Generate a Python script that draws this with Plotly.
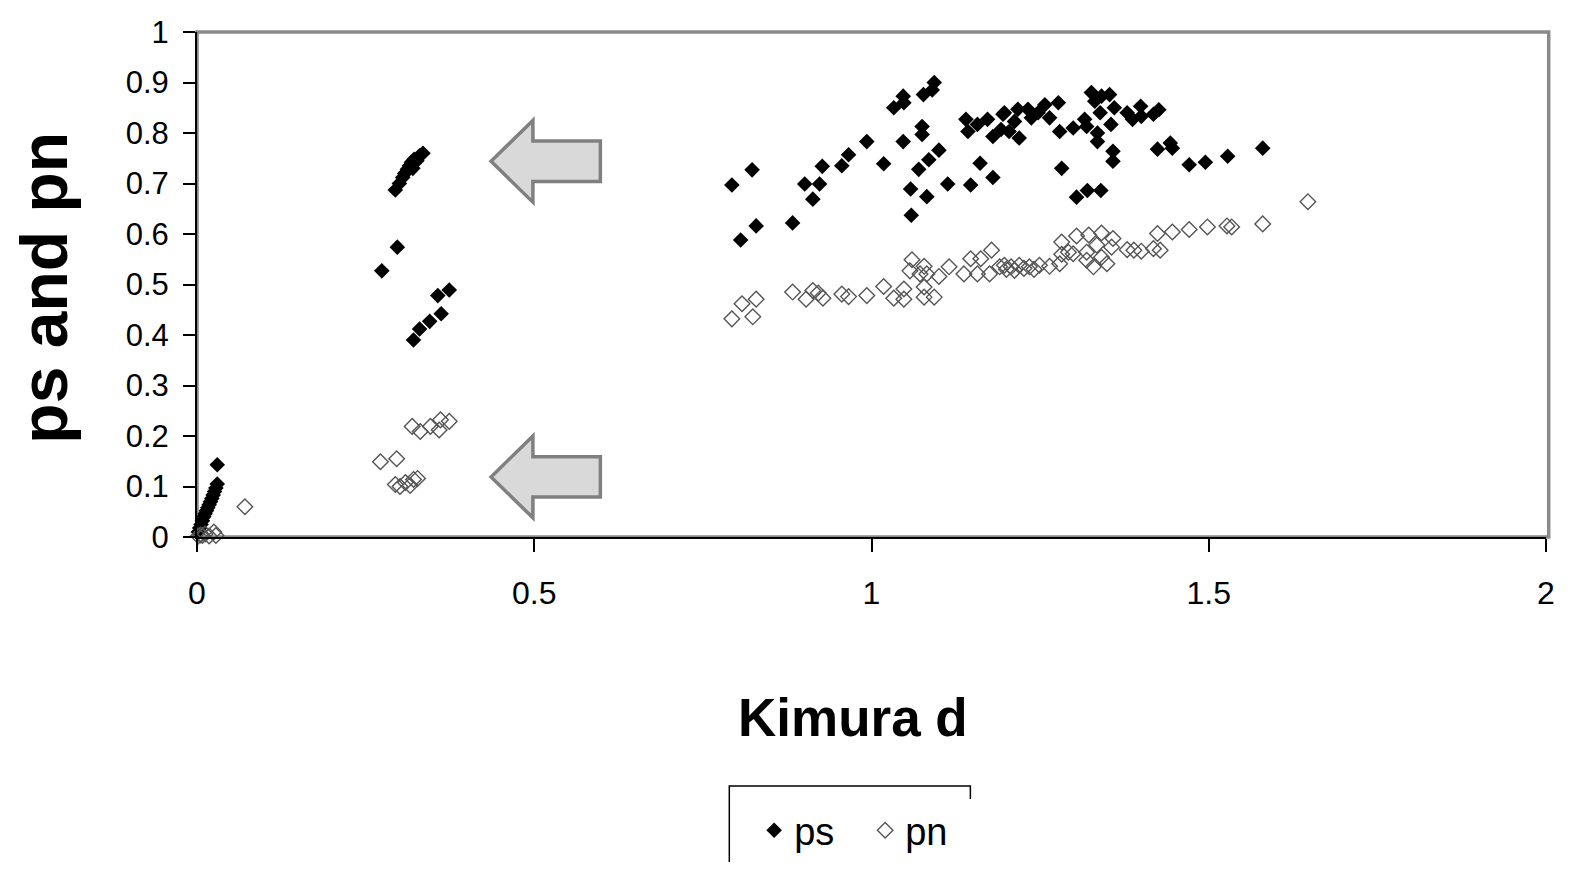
import plotly.graph_objects as go

# ---------------- data ----------------
ps_x = [0.002, 0.004, 0.006, 0.008, 0.010, 0.012, 0.014, 0.016, 0.018, 0.020, 0.022, 0.024, 0.026, 0.028, 0.030,
        0.294, 0.300, 0.305, 0.308, 0.312, 0.315, 0.318, 0.322, 0.326, 0.330, 0.335, 0.320,
        0.297, 0.274, 0.374, 0.357, 0.362, 0.345, 0.330, 0.321,
        0.793, 0.823, 0.806, 0.829, 0.883, 0.901, 0.913, 0.923, 0.927, 0.956, 0.966, 0.993, 1.018, 1.033,
        1.047, 1.048, 1.047, 1.058, 1.059, 1.077, 1.093, 1.090, 1.075, 1.075, 1.085, 1.070, 1.100, 1.082,
        1.113, 1.147, 1.161, 1.180, 1.140, 1.143, 1.157, 1.172, 1.180, 1.195,
        1.197, 1.217, 1.212, 1.232, 1.237, 1.192, 1.204, 1.219, 1.247, 1.257, 1.277, 1.264, 1.279, 1.299,
        1.316, 1.326, 1.341, 1.353, 1.331, 1.339, 1.319, 1.355, 1.360, 1.335, 1.335, 1.358, 1.358, 1.282,
        1.304, 1.320, 1.340, 1.379, 1.387, 1.399, 1.400, 1.418, 1.426, 1.424, 1.443, 1.446, 1.471, 1.495,
        1.528, 1.580, 0.030]
ps_y = [0.010, 0.018, 0.025, 0.032, 0.040, 0.046, 0.052, 0.058, 0.064, 0.070, 0.076, 0.083, 0.090, 0.097, 0.105,
        0.687, 0.700, 0.712, 0.720, 0.728, 0.735, 0.742, 0.748, 0.745, 0.755, 0.760, 0.730,
        0.574, 0.527, 0.489, 0.478, 0.442, 0.427, 0.412, 0.390,
        0.697, 0.727, 0.588, 0.616, 0.622, 0.699, 0.669, 0.699, 0.734, 0.735, 0.757, 0.783, 0.739, 0.850,
        0.873, 0.860, 0.783, 0.689, 0.637, 0.876, 0.900, 0.885, 0.813, 0.797, 0.747, 0.728, 0.766, 0.674,
        0.699, 0.697, 0.740, 0.712, 0.827, 0.803, 0.817, 0.827, 0.793, 0.837,
        0.840, 0.847, 0.823, 0.847, 0.830, 0.807, 0.803, 0.790, 0.840, 0.856, 0.860, 0.830, 0.803, 0.810,
        0.827, 0.880, 0.873, 0.876, 0.863, 0.840, 0.813, 0.817, 0.850, 0.800, 0.783, 0.764, 0.744, 0.730,
        0.673, 0.686, 0.686, 0.840, 0.827, 0.853, 0.833, 0.837, 0.846, 0.768, 0.780, 0.770, 0.737, 0.742,
        0.754, 0.770, 0.143]

pn_x = [0.002, 0.005, 0.008, 0.012, 0.018, 0.025, 0.028, 0.071,
        0.272, 0.296, 0.294, 0.301, 0.309, 0.316, 0.321, 0.327,
        0.319, 0.331, 0.346, 0.359, 0.361, 0.374,
        0.793, 0.808, 0.824, 0.829, 0.883, 0.903, 0.913, 0.928, 0.921, 0.956, 0.966, 0.993, 1.018, 1.033,
        1.048, 1.048, 1.060, 1.057, 1.078, 1.082, 1.072, 1.078, 1.078, 1.093, 1.100, 1.115, 1.137, 1.147,
        1.162, 1.178, 1.157, 1.175, 1.190,
        1.197, 1.207, 1.219, 1.234, 1.249, 1.264, 1.279, 1.282, 1.282, 1.299, 1.304, 1.322, 1.341, 1.319,
        1.319, 1.334, 1.341, 1.329, 1.349, 1.356, 1.358, 1.379, 1.389, 1.400, 1.418, 1.428, 1.424, 1.446,
        1.471, 1.498, 1.527, 1.534, 1.580, 1.647, 1.292, 1.200, 1.212, 1.226, 1.241]
pn_y = [0.002, 0.004, 0.003, 0.006, 0.002, 0.010, 0.003, 0.060,
        0.149, 0.155, 0.104, 0.100, 0.108, 0.102, 0.114, 0.116,
        0.219, 0.209, 0.219, 0.212, 0.232, 0.229,
        0.432, 0.462, 0.436, 0.471, 0.485, 0.471, 0.488, 0.473, 0.483, 0.481, 0.476, 0.478, 0.496, 0.473,
        0.471, 0.491, 0.549, 0.527, 0.536, 0.521, 0.521, 0.495, 0.475, 0.475, 0.516, 0.535, 0.521, 0.551,
        0.551, 0.568, 0.521, 0.521, 0.535,
        0.538, 0.535, 0.538, 0.535, 0.538, 0.536, 0.541, 0.584, 0.560, 0.561, 0.596, 0.598, 0.602, 0.564,
        0.548, 0.578, 0.554, 0.535, 0.541, 0.574, 0.591, 0.569, 0.568, 0.566, 0.571, 0.568, 0.601, 0.604,
        0.609, 0.614, 0.616, 0.614, 0.620, 0.664, 0.564, 0.530, 0.528, 0.532, 0.530]

x_ticks = [0, 0.5, 1, 1.5, 2]
y_ticks = [0, 0.1, 0.2, 0.3, 0.4, 0.5, 0.6, 0.7, 0.8, 0.9, 1]

# ---------------- figure ----------------
FONT = "Liberation Sans, Arial, sans-serif"
fig = go.Figure()
fig.add_trace(go.Scatter(x=ps_x, y=ps_y, mode="markers", name="ps", cliponaxis=False,
                         marker=dict(symbol="diamond", size=12, color="black",
                                     line=dict(width=0))))
fig.add_trace(go.Scatter(x=pn_x, y=pn_y, mode="markers", name="pn", cliponaxis=False,
                         marker=dict(symbol="diamond-open", size=12, color="#555555",
                                     line=dict(width=1.4, color="#555555"))))


def arrow_path(cy):
    tip_x, head_x, end_x = 0.436, 0.498, 0.598
    hh, sh = 0.081, 0.040
    return (f"M {tip_x},{cy} L {head_x},{cy + hh} L {head_x},{cy + sh} L {end_x},{cy + sh} "
            f"L {end_x},{cy - sh} L {head_x},{cy - sh} L {head_x},{cy - hh} Z")


shapes = [
    dict(type="rect", xref="paper", yref="paper", x0=0, x1=1.002, y0=0, y1=1,
         line=dict(color="#8a8a8a", width=3.5), layer="below"),
    # legend frame
    dict(type="rect", xref="paper", yref="paper", x0=0.3946, x1=0.5733, y0=-0.70, y1=-0.493,
         line=dict(color="black", width=1.5), fillcolor="rgba(0,0,0,0)"),
]
for cy in (0.744, 0.119):
    shapes.append(dict(type="path", xref="x", yref="y", path=arrow_path(cy),
                       fillcolor="#d9d9d9", line=dict(color="#808080", width=3.5), layer="above"))

fig.update_layout(
    width=1558, height=854,
    margin=dict(l=189, r=20, t=24, b=325),
    paper_bgcolor="white", plot_bgcolor="white",
    font=dict(family=FONT, color="black", size=32),
    showlegend=True,
    legend=dict(orientation="h", x=0.413, y=0.0, xanchor="left", yanchor="bottom",
                yref="container", borderwidth=0, font=dict(size=38, family=FONT),
                itemwidth=30, traceorder="normal", entrywidth=66, entrywidthmode="pixels"),
    shapes=shapes,
    annotations=[
        dict(text="<b>Kimura d</b>", xref="paper", yref="paper", x=0.486, y=-0.358,
             xanchor="center", yanchor="middle", showarrow=False, font=dict(size=53, family=FONT)),
        dict(text="<b>ps and pn</b>", xref="paper", yref="paper", x=-0.1137, y=0.493,
             xanchor="center", yanchor="middle", showarrow=False, textangle=-90,
             font=dict(size=66, family=FONT)),
    ],
)
fig.update_xaxes(range=[0, 2], tickvals=x_ticks, showgrid=False, zeroline=False, automargin=False,
                 showline=True, linecolor="black", linewidth=2,
                 ticks="outside", ticklen=13, tickwidth=2, tickcolor="black",
                 ticklabelstandoff=14, tickfont=dict(size=32, family=FONT))
fig.update_yaxes(range=[0, 1], tickvals=y_ticks, showgrid=False, zeroline=False, automargin=False,
                 showline=True, linecolor="black", linewidth=2,
                 ticks="outside", ticklen=12, tickwidth=2, tickcolor="black",
                 ticklabelstandoff=8, tickfont=dict(size=31, family=FONT))

fig.write_html("out.html")
